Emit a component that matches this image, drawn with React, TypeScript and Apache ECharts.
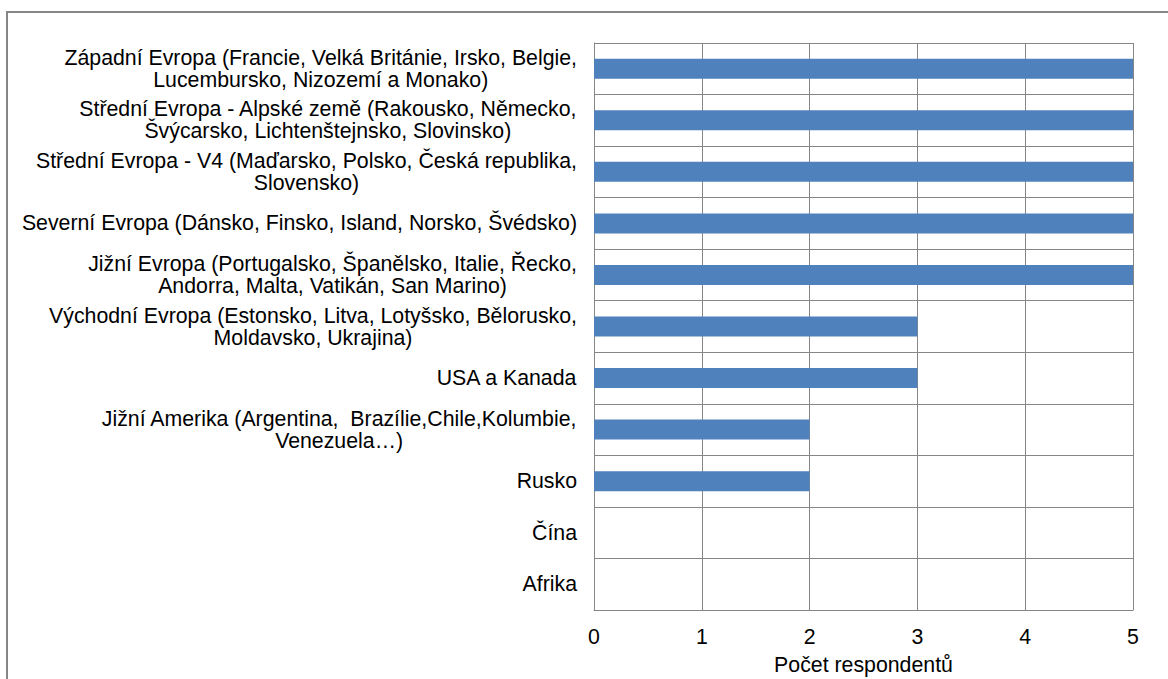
import React, { useEffect, useRef } from "react";
import * as echarts from "echarts";

const categories: string[][] = [
  ["Západní Evropa (Francie, Velká Británie, Irsko, Belgie,", "Lucembursko, Nizozemí a Monako)"],
  ["Střední Evropa - Alpské země (Rakousko, Německo,", "Švýcarsko, Lichtenštejnsko, Slovinsko)"],
  ["Střední Evropa - V4 (Maďarsko, Polsko, Česká republika,", "Slovensko)"],
  ["Severní Evropa (Dánsko, Finsko, Island, Norsko, Švédsko)"],
  ["Jižní Evropa (Portugalsko, Španělsko, Italie, Řecko,", "Andorra, Malta, Vatikán, San Marino)"],
  ["Východní Evropa (Estonsko, Litva, Lotyšsko, Bělorusko,", "Moldavsko, Ukrajina)"],
  ["USA a Kanada"],
  ["Jižní Amerika (Argentina,  Brazílie,Chile,Kolumbie,", "Venezuela…)"],
  ["Rusko"],
  ["Čína"],
  ["Afrika"],
];
const values: number[] = [5, 5, 5, 5, 5, 3, 3, 2, 2, 0, 0];
const xTicks = { min: 0, max: 5, interval: 1 };
const axisTitle = "Počet respondentů";

export default function App() {
  const ref = useRef<HTMLDivElement>(null);
  useEffect(() => {
    if (!ref.current) return;
    const chart = echarts.init(ref.current, undefined, { renderer: "svg" });
    const font = "'Liberation Sans', Arial, sans-serif";
    const fs = 21.3;
    chart.setOption({
      animation: false,
      backgroundColor: "#ffffff",
      textStyle: { fontFamily: font },
      graphic: [
        {
          type: "rect",
          shape: { x: 7, y: 12, width: 1200, height: 720 },
          style: { fill: "none", stroke: "#868686", lineWidth: 2 },
          silent: true,
        },
      ],
      grid: {
        left: 594,
        top: 43,
        right: 35,
        bottom: 69,
        containLabel: false,
        outerBoundsMode: "none",
      },
      xAxis: {
        type: "value",
        min: xTicks.min,
        max: xTicks.max,
        interval: xTicks.interval,
        name: axisTitle,
        nameLocation: "middle",
        nameGap: 45,
        nameTextStyle: { fontSize: fs, lineHeight: 20, color: "#000", fontFamily: font },
        axisLine: { show: true, lineStyle: { color: "#868686", width: 1 } },
        axisTick: { show: false },
        axisLabel: { fontSize: fs, color: "#000", margin: 16, fontFamily: font },
        splitLine: { show: true, lineStyle: { color: "#868686", width: 1 } },
      },
      yAxis: {
        type: "category",
        inverse: true,
        data: categories.map((c) => c.join("\n")),
        axisLine: { show: true, lineStyle: { color: "#868686", width: 1 } },
        axisTick: { show: false },
        splitLine: { show: true, lineStyle: { color: "#868686", width: 1 } },
        axisLabel: {
          interval: 0,
          margin: 17,
          fontSize: fs,
          color: "#000",
          fontFamily: font,
          lineHeight: 22,
          formatter: (v: string) =>
            v
              .split("\n")
              .map((l) => "{c|" + l + "}")
              .join("\n"),
          rich: {
            c: { align: "center", fontSize: fs, lineHeight: 22, color: "#000", fontFamily: font },
          },
        },
      },
      series: [
        {
          type: "bar",
          data: values,
          barWidth: 20,
          itemStyle: { color: "#4F81BD" },
        },
      ],
    });
    return () => chart.dispose();
  }, []);
  return (
    <div
      ref={ref}
      style={{ position: "fixed", left: 0, top: 0, width: 1168, height: 679 }}
    />
  );
}
